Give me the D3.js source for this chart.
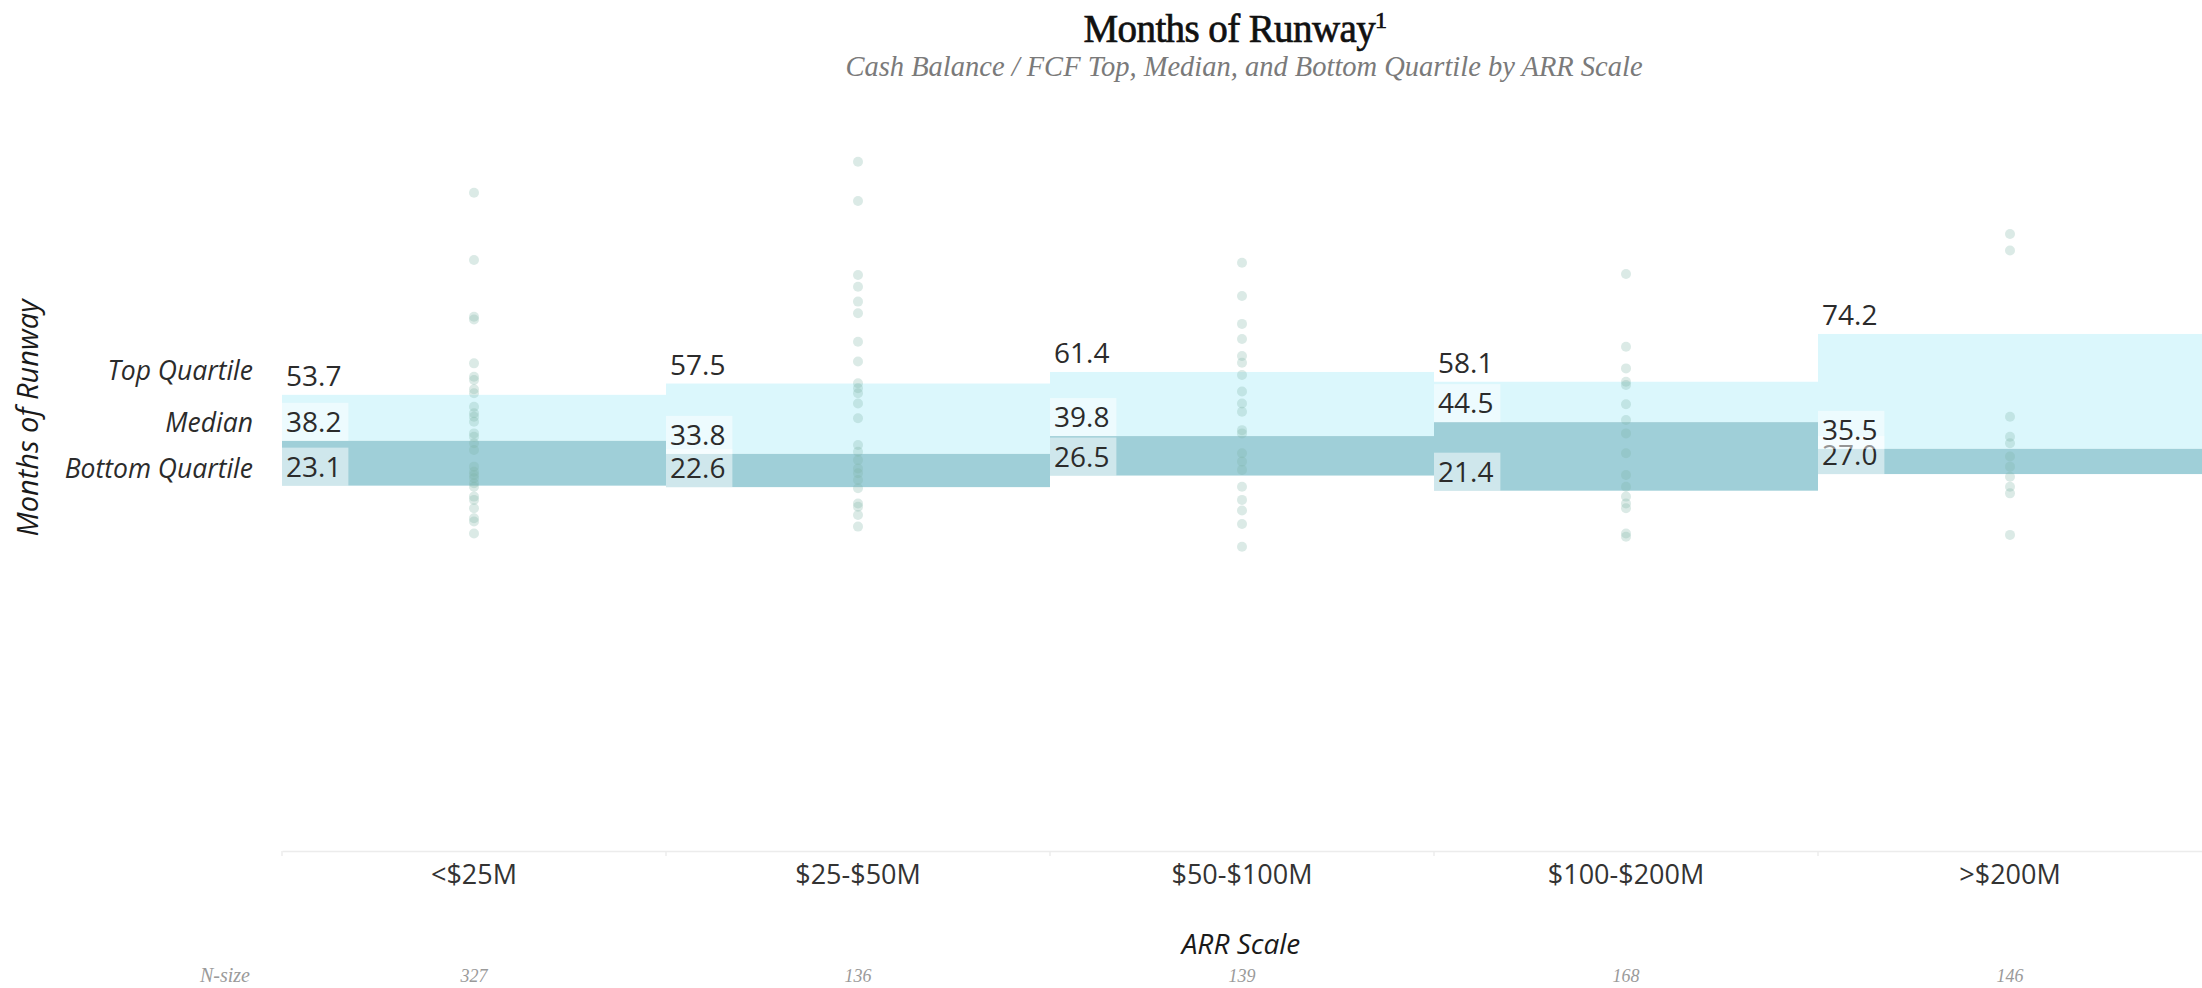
<!DOCTYPE html>
<html>
<head>
<meta charset="utf-8">
<script src="https://cdn.jsdelivr.net/npm/d3@7"></script>
<style>
  html, body { margin: 0; padding: 0; background: #fff; }
  svg { display: block; }
</style>
</head>
<body>
<svg id="chart" width="2202" height="988"></svg>
<script>
// ARR scale buckets and runway quartiles (months)
const categories = ["<$25M", "$25-$50M", "$50-$100M", "$100-$200M", ">$200M"];
const topQuartile = [53.7, 57.5, 61.4, 58.1, 74.2];
const medianRunway = [38.2, 33.8, 39.8, 44.5, 35.5];
const bottomQuartile = [23.1, 22.6, 26.5, 21.4, 27.0];
const nSize = [327, 136, 139, 168, 146];
const rowLabels = ["Top Quartile", "Median", "Bottom Quartile"];

// Individual company runway values per bucket (months)
const runwayUnder25 = [121.8, 99.1, 80.0, 79.1, 64.3, 59.8, 58.7, 55.6, 54.2, 49.7, 47.5, 46.3, 44.6, 40.7, 39.6, 37.4, 35.1, 29.5, 27.8, 26.7, 25.6, 23.9, 22.7, 19.4, 18.3, 15.5, 12.1, 11.0, 7.0];
const runway25to50 = [132.2, 119.0, 94.1, 90.1, 85.1, 81.2, 71.6, 64.9, 57.6, 55.9, 54.2, 50.8, 45.8, 36.8, 34.5, 31.7, 28.9, 27.3, 25.0, 22.2, 17.1, 16.0, 13.2, 9.3];
const runway50to100 = [98.2, 87.0, 77.6, 72.5, 66.8, 64.5, 60.4, 54.8, 50.8, 48.0, 41.8, 40.7, 34.0, 31.2, 28.4, 22.7, 18.3, 14.7, 10.2, 2.5];
const runway100to200 = [94.4, 69.9, 62.6, 58.1, 57.0, 50.5, 45.2, 40.7, 34.0, 26.7, 22.7, 19.4, 17.1, 15.5, 7.0, 5.9];
const runwayOver200 = [107.9, 102.3, 46.3, 39.6, 37.4, 32.9, 29.5, 26.1, 22.7, 20.5, 6.5];
const runwayByBucket = [runwayUnder25, runway25to50, runway50to100, runway100to200, runwayOver200];

const svg = d3.select("#chart");
const plotLeft = 282, plotRight = 2202, plotTop = 109, plotBottom = 851;

const x = d3.scaleBand().domain(categories).range([plotLeft, plotRight]).padding(0);
const y = d3.scaleLinear().domain([-100, 150]).range([plotBottom, plotTop]);

const sansFont = "'Open Sans', 'Noto Sans', sans-serif";
const serifFont = "'Liberation Serif', 'DejaVu Serif', serif";

const rows = categories.map((c, i) => ({
  cat: c, top: topQuartile[i], med: medianRunway[i], bot: bottomQuartile[i], n: nSize[i], pts: runwayByBucket[i]
}));

// Title and subtitle
const title = svg.append("text")
  .attr("x", 1235).attr("y", 42)
  .attr("text-anchor", "middle")
  .style("font-family", serifFont)
  .style("font-size", "39px")
  .style("letter-spacing", "-0.6px")
  .style("fill", "#111")
  .style("stroke", "#111")
  .style("stroke-width", "0.7px");
title.append("tspan").text("Months of Runway");
title.append("tspan").text("1").attr("dy", -14).style("font-size", "24px");

svg.append("text")
  .attr("x", 1244).attr("y", 76)
  .attr("text-anchor", "middle")
  .style("font-family", serifFont)
  .style("font-style", "italic")
  .style("font-size", "28.5px")
  .style("fill", "#7a7a7a")
  .text("Cash Balance / FCF Top, Median, and Bottom Quartile by ARR Scale");

// Quartile bands: top-to-median (light) and median-to-bottom (dark)
svg.append("g").selectAll("rect")
  .data(rows).join("rect")
  .attr("x", d => x(d.cat))
  .attr("width", x.bandwidth())
  .attr("y", d => y(d.top))
  .attr("height", d => y(d.med) - y(d.top))
  .attr("fill", "#dbf7fc");

svg.append("g").selectAll("rect")
  .data(rows).join("rect")
  .attr("x", d => x(d.cat))
  .attr("width", x.bandwidth())
  .attr("y", d => y(d.med))
  .attr("height", d => y(d.bot) - y(d.med))
  .attr("fill", "#9fcfd8");

// Value labels with translucent backing boxes
function valueLabels(key, boxed) {
  const g = svg.append("g");
  rows.forEach(d => {
    const v = d[key];
    const lg = g.append("g");
    const box = lg.append("rect");
    const t = lg.append("text")
      .attr("x", x(d.cat) + 4)
      .attr("y", y(v) - 9)
      .style("font-family", sansFont)
      .style("font-size", "28px")
      .style("fill", "#2b2b2b")
      .text(v.toFixed(1));
    const w = t.node().getComputedTextLength();
    if (boxed) {
      box.attr("x", x(d.cat)).attr("y", y(v) - 38)
        .attr("width", w + 11).attr("height", 38)
        .attr("fill", "#ffffff").attr("fill-opacity", 0.5);
    } else {
      box.remove();
    }
  });
}
valueLabels("bot", true);
valueLabels("med", true);
valueLabels("top", false);

// Individual company points, centred on each bucket
const dotG = svg.append("g");
rows.forEach(d => {
  dotG.selectAll(null)
    .data(d.pts).join("circle")
    .attr("cx", x(d.cat) + x.bandwidth() / 2)
    .attr("cy", v => y(v))
    .attr("r", 5)
    .attr("fill", "#7fb3a6")
    .attr("fill-opacity", 0.28);
});

// Row headers on the left
const rowY = [380, 432, 478];
svg.append("g").selectAll("text")
  .data(rowLabels).join("text")
  .attr("x", 253)
  .attr("y", (d, i) => rowY[i])
  .attr("text-anchor", "end")
  .style("font-family", sansFont)
  .style("font-style", "italic")
  .style("font-size", "26.5px")
  .style("fill", "#2b2b2b")
  .text(d => d);

// Y axis title
svg.append("text")
  .attr("transform", "translate(38,418) rotate(-90)")
  .attr("text-anchor", "middle")
  .style("font-family", sansFont)
  .style("font-style", "italic")
  .style("font-size", "29px")
  .style("fill", "#1a1a1a")
  .text("Months of Runway");

// Category axis
const xAxis = d3.axisBottom(x).tickSize(0).tickPadding(22);
const axG = svg.append("g").attr("transform", `translate(0,${plotBottom})`).call(xAxis);
axG.select(".domain").attr("stroke", "#ececec").attr("stroke-width", 1.5);
axG.selectAll(".tick text")
  .style("font-family", sansFont)
  .style("font-size", "27px")
  .style("fill", "#333")
  .attr("dy", "0.71em")
  .attr("y", 14);

// Band separators
svg.append("g").selectAll("line")
  .data(categories).join("line")
  .attr("x1", d => x(d)).attr("x2", d => x(d))
  .attr("y1", plotBottom).attr("y2", plotBottom + 5)
  .attr("stroke", "#ececec").attr("stroke-width", 1.5);

// X axis title
svg.append("text")
  .attr("x", 1241).attr("y", 954)
  .attr("text-anchor", "middle")
  .style("font-family", sansFont)
  .style("font-style", "italic")
  .style("font-size", "28px")
  .style("fill", "#1a1a1a")
  .text("ARR Scale");

// Sample sizes
svg.append("text")
  .attr("x", 250).attr("y", 982)
  .attr("text-anchor", "end")
  .style("font-family", serifFont)
  .style("font-style", "italic")
  .style("font-size", "20px")
  .style("fill", "#9a9a9a")
  .text("N-size");

svg.append("g").selectAll("text")
  .data(rows).join("text")
  .attr("x", d => x(d.cat) + x.bandwidth() / 2)
  .attr("y", 982)
  .attr("text-anchor", "middle")
  .style("font-family", serifFont)
  .style("font-style", "italic")
  .style("font-size", "18px")
  .style("fill", "#9a9a9a")
  .text(d => d.n);
</script>
</body>
</html>
